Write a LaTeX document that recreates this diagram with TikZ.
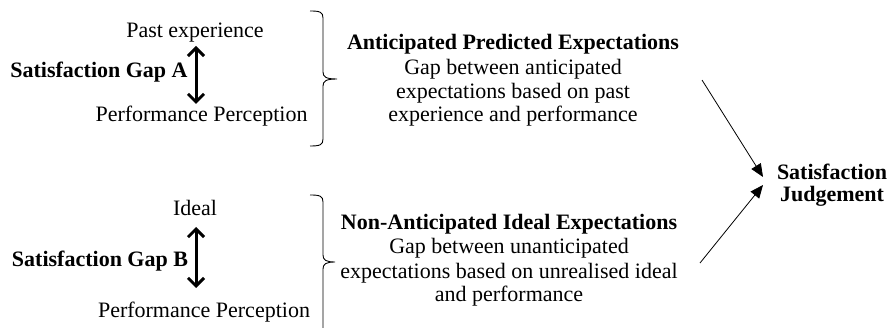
\documentclass[tikz,border=0pt]{standalone}
\usepackage{fontspec}
\setmainfont{Liberation Serif}
\usetikzlibrary{arrows.meta}
\begin{document}
\begin{tikzpicture}[x=1pt,y=-1pt,
  txt/.style={inner sep=0pt,anchor=base,font=\fontsize{22}{24}\selectfont},
  btxt/.style={txt,font=\fontsize{22}{24}\selectfont\bfseries},
  gaparrow/.style={line width=3pt,{Straight Barb[length=8pt,width=16pt]}-{Straight Barb[length=8pt,width=16pt]}},
  judgearrow/.style={line width=0.8pt,-{Triangle[length=13pt,width=11pt]}},
  bracepath/.style={line width=0.9pt}]
\useasboundingbox (0,0) rectangle (891,328);
% Group A
\node[txt] (pastA) at (195,38) {Past experience};
\node[btxt] (gapA) at (99,78) {Satisfaction Gap A};
\node[txt] (perfA) at (201.5,122) {Performance Perception};
\coordinate (aTop) at (196,46);
\coordinate (aBot) at (196,104);
\draw[gaparrow] (aTop) -- (aBot);
\draw[bracepath] (310,11) .. controls (320,11) and (323,12) .. (323,18) -- (323,72)
  .. controls (323,77) and (326,79) .. (337,79)
  .. controls (326,79) and (323,81) .. (323,86) -- (323,139)
  .. controls (323,145) and (320,146) .. (310,146);
\node[btxt] (titleA) at (513,50) {Anticipated Predicted Expectations};
\node[txt] (a1) at (513,75) {Gap between anticipated};
\node[txt] (a2) at (513,99) {expectations based on past};
\node[txt] (a3) at (513,122) {experience and performance};
% Group B
\node[txt] (idealB) at (195,216) {Ideal};
\node[btxt] (gapB) at (100,267) {Satisfaction Gap B};
\node[txt] (perfB) at (204,318) {Performance Perception};
\coordinate (bTop) at (196,227);
\coordinate (bBot) at (196,288);
\draw[gaparrow] (bTop) -- (bBot);
\draw[bracepath] (310,195) .. controls (320,195) and (323,196) .. (323,202) -- (323,255)
  .. controls (323,260) and (326,262) .. (335,262)
  .. controls (326,262) and (323,264) .. (323,269) -- (323,330);
\node[btxt] (titleB) at (509,230) {Non-Anticipated Ideal Expectations};
\node[txt] (b1) at (509,254) {Gap between unanticipated};
\node[txt] (b2) at (509,279) {expectations based on unrealised ideal};
\node[txt] (b3) at (509,302) {and performance};
% Judgement
\node[btxt] (sj1) at (832,180) {Satisfaction};
\node[btxt] (sj2) at (832,202) {Judgement};
\coordinate (fromA) at (702,80);
\coordinate (toA) at (763,177);
\coordinate (fromB) at (700,263);
\coordinate (toB) at (763,185);
\draw[judgearrow] (fromA) -- (toA);
\draw[judgearrow] (fromB) -- (toB);
\end{tikzpicture}
\end{document}
